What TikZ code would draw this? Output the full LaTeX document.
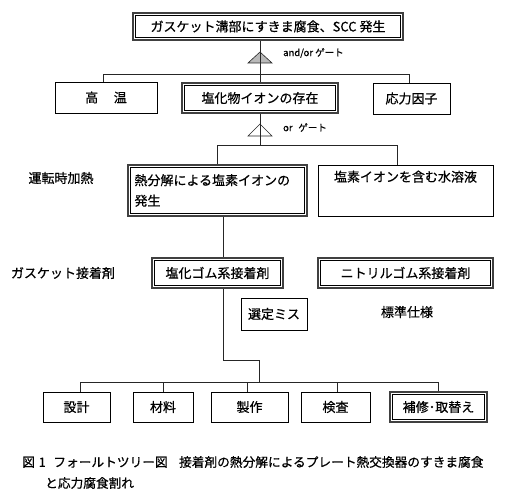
\documentclass[tikz,border=0pt]{standalone}
\usepackage{fontspec}
\setmainfont{Noto Sans CJK JP}[FakeBold=0.6]
\begin{document}
\begin{tikzpicture}[x=1pt,y=-1pt,
  box/.style={draw, line width=0.6pt, inner sep=0pt, font=\fontsize{13}{15}\selectfont},
  dbox/.style={box, draw=black!75, line width=1.5pt,
    path picture={\draw[black, line width=0.6pt]
      ([shift={(2.6,-2.6)}]path picture bounding box.south west) rectangle
      ([shift={(-2.6,2.6)}]path picture bounding box.north east);}},
  lbl/.style={inner sep=0pt, font=\fontsize{13}{15}\selectfont},
  glbl/.style={inner sep=0pt, anchor=west, font=\fontsize{9.5}{11}\selectfont},
  captext/.style={inner sep=0pt, anchor=west, font=\fontsize{12.7}{15}\selectfont},
  conn/.style={line width=0.6pt, draw=black!85},
  gate/.style={line width=0.6pt, draw=black!85}]
\useasboundingbox (0,0) rectangle (512,500);

% top event
\node[dbox, minimum width=270, minimum height=27] (top) at (268,26.5) {ガスケット溝部にすきま腐食、SCC 発生};

% and/or gate
\coordinate (g1a) at (260,52);
\coordinate (bus1) at (260,74);
\fill[gray!55] (g1a) -- ++(12,11) -- ++(-24,0) -- cycle;
\draw[conn] (top.south -| g1a) -- (bus1);
\draw[gate] (g1a) -- ++(12,11) -- ++(-24,0) -- cycle;
\node[glbl] (g1l) at (283,53) {and/or ゲート};

% second level
\node[box, minimum width=102, minimum height=31] (hi) at (106,97.5) {高\hspace{1.2em}温};
\node[dbox, minimum width=156, minimum height=30] (chl) at (260,98) {塩化物イオンの存在};
\node[box, minimum width=77, minimum height=31] (str) at (411.5,98.5) {応力因子};
\coordinate (b1l) at (103,74);
\coordinate (b1r) at (409,74);
\draw[conn] (hi.north -| b1l) -- (b1l) -- (b1r) -- (str.north -| b1r);
\draw[conn] (bus1) -- (chl.north);

% or gate
\coordinate (g2a) at (260,124);
\coordinate (bus2) at (260,145);
\fill[white] (g2a) -- ++(12,12) -- ++(-24,0) -- cycle;
\draw[conn] (chl.south) -- (bus2);
\draw[gate] (g2a) -- ++(12,12) -- ++(-24,0) -- cycle;
\node[glbl] (g2l) at (283,127.5) {or\hspace{0.6em}ゲート};

% third level
\node[dbox, minimum width=179, minimum height=51, text width=166, align=left,
      font=\fontsize{13}{20.5}\selectfont] (th) at (217.5,190.5) {熱分解による塩素イオンの\\発生};
\node[box, minimum width=175, minimum height=51, align=center,
      font=\fontsize{13}{22}\selectfont] (aq) at (405.5,190.5) {塩素イオンを含む水溶液\\\strut};
\coordinate (b2l) at (217,145);
\coordinate (b2r) at (397,145);
\draw[conn] (th.north -| b2l) -- (b2l) -- (b2r) -- (aq.north -| b2r);
\node[lbl] (l1) at (61,178) {運転時加熱};

% fourth level
\node[dbox, minimum width=131, minimum height=30] (crb) at (217.5,273) {塩化ゴム系接着剤};
\node[dbox, minimum width=175, minimum height=30] (nit) at (405.5,273) {ニトリルゴム系接着剤};
\node[lbl] (l2) at (63,273) {ガスケット接着剤};
\node[box, minimum width=66, minimum height=32] (sel) at (274,314) {選定ミス};
\node[lbl] (l3) at (407,312) {標準仕様};
\coordinate (v1) at (223,217);
\draw[conn] (th.south -| v1) -- (crb.north -| v1);

% path down
\coordinate (j1) at (223,360);
\coordinate (j2) at (259,360);
\coordinate (j3) at (259,382);
\draw[conn] (crb.south -| j1) -- (j1) -- (j2) -- (j3);

% bottom level
\node[box, minimum width=67, minimum height=30] (d1) at (76.5,407) {設計};
\node[box, minimum width=60, minimum height=30] (d2) at (163,407) {材料};
\node[box, minimum width=77, minimum height=30] (d3) at (249.5,407) {製作};
\node[box, minimum width=69, minimum height=30] (d4) at (335.5,407) {検査};
\node[dbox, minimum width=97, minimum height=30] (d5) at (438.5,407) {補修･取替え};
\coordinate (c1) at (80,382);
\coordinate (c2) at (163,382);
\coordinate (c3) at (247,382);
\coordinate (c4) at (337,382);
\coordinate (c5) at (438,382);
\draw[conn] (d1.north -| c1) -- (c1) -- (c5) -- (d5.north -| c5);
\draw[conn] (c2) -- (d2.north -| c2);
\draw[conn] (c3) -- (d3.north -| c3);
\draw[conn] (c4) -- (d4.north -| c4);

% caption
\node[captext] (cap1) at (22,462) {図\hspace{0.3em}1\hspace{0.6em}フォールトツリー図\hspace{0.9em}接着剤の熱分解によるプレート熱交換器のすきま腐食};
\node[captext] (cap2) at (45,483) {と応力腐食割れ};
\end{tikzpicture}
\end{document}
